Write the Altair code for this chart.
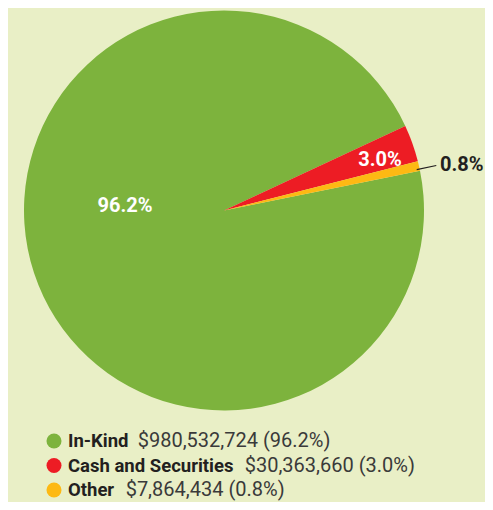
import math
import altair as alt
import pandas as pd

# ---- data ----
names = ["In-Kind", "Cash and Securities", "Other"]
amounts = [980532724, 30363660, 7864434]
pct_labels = ["96.2%", "3.0%", "0.8%"]
colors = ["#7db33d", "#ed1c24", "#fdb913"]
pie_order = [2, 0, 1]  # stacking order around the pie

FONT = "Roboto"
NAME_SIZE = 18.5
VALUE_SIZE = 20
W, H = 477, 494
CX, CY, R = 216, 202.5, 200

# approximate Roboto Bold advance widths (em) to place the regular text after the bold name
BOLD_W = {"I": .283, "n": .555, "-": .28, "K": .627, "i": .259, "d": .561, "C": .652,
          "a": .543, "s": .528, "h": .556, " ": .243, "S": .602, "e": .532, "c": .523,
          "u": .554, "r": .354, "t": .336, "O": .689}


def text_w(s, size):
    return sum(BOLD_W.get(ch, .55) for ch in s) * size


NAME_X = 60
df = pd.DataFrame({
    "name": names,
    "amount": amounts,
    "pct": pct_labels,
    "order": pie_order,
    "value": [f"${a:,} ({p})" for a, p in zip(amounts, pct_labels)],
    "vx": [NAME_X + text_w(n, NAME_SIZE) + 12 for n in names],
})

total = sum(amounts)
start = math.radians(65)
tscale = alt.Scale(domain=[0, total], range=[start, start + 2 * math.pi])
cscale = alt.Scale(domain=names, range=colors)
cx, cy = alt.value(CX), alt.value(CY)

base = (
    alt.Chart(df)
    .transform_stack(stack="amount", groupby=[], as_=["a0", "a1"],
                     sort=[alt.SortField("order", "ascending")])
    .transform_calculate(mid="(datum.a0 + datum.a1) / 2")
)

arcs = base.mark_arc(outerRadius=R).encode(
    x=cx, y=cy,
    theta=alt.Theta("a0:Q", scale=tscale),
    theta2=alt.Theta2("a1:Q"),
    color=alt.Color("name:N", scale=cscale, legend=None),
)


def pie_label(name, radius, off, color):
    return base.transform_filter(alt.datum.name == name).mark_text(
        radius=radius, thetaOffset=off, font=FONT, fontSize=20, fontWeight="bold",
        color=color, align="center", baseline="middle",
    ).encode(x=cx, y=cy, theta=alt.Theta("mid:Q", scale=tscale), text="pct:N")


lab_green = pie_label("In-Kind", 99, 0.364, "white")
lab_red = pie_label("Cash and Securities", 164, 0.03, "white")
lab_other = pie_label("Other", 242, 0.037, "#231f20")

leader = base.transform_filter(alt.datum.name == "Other").mark_arc(
    innerRadius=197, outerRadius=217, stroke="#231f20", strokeWidth=1.2,
    fillOpacity=0, thetaOffset=0.016, theta2Offset=0.016,
).encode(x=cx, y=cy, theta=alt.Theta("mid:Q", scale=tscale), theta2=alt.Theta2("mid:Q"))

ly = alt.Y("name:N", sort=names, axis=None,
           scale=alt.Scale(type="point", domain=names, range=[433, 482], padding=0))
lbase = alt.Chart(df)
dots = lbase.mark_point(filled=True, shape="circle", size=225, opacity=1).encode(
    x=alt.value(46), y=ly,
    color=alt.Color("name:N", scale=cscale, legend=None),
)
lnames = lbase.mark_text(align="left", baseline="middle", font=FONT, fontSize=NAME_SIZE,
                         fontWeight="bold", color="#231f20").encode(
    x=alt.value(NAME_X), y=ly, text="name:N")
lvalues = lbase.mark_text(align="left", baseline="middle", font=FONT, fontSize=VALUE_SIZE,
                          color="#3a3a3a").encode(
    x=alt.X("vx:Q", scale=None), y=ly, text="value:N")

chart = (
    alt.layer(arcs, leader, lab_green, lab_red, lab_other, dots, lnames, lvalues)
    .properties(width=W, height=H, padding=0, autosize=alt.AutoSizeParams(type="none"))
    .configure(background="#e9efc6")
    .configure_view(stroke=None)
)

chart.save("out.html", embed_options={"renderer": "svg", "actions": False})
